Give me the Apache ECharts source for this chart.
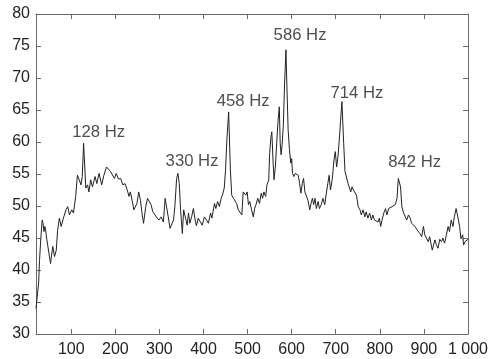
<!DOCTYPE html>
<html><head><meta charset="utf-8">
<script src="https://cdn.jsdelivr.net/npm/echarts@6/dist/echarts.min.js"></script>
<style>html,body{margin:0;padding:0;background:#fff}#c{width:491px;height:359px}</style>
</head><body><div id="c"></div>
<script>
// Spectrum samples (Hz) and levels
const freq = [
  20,22,24,26,28,31,34,36,38,40,42,44,47,
  53,58,62,66,69,73,77,83,88,92,96,101,105,110,114,118,122,125,128,
  133,137,140,144,148,154,158,163,169,174,180,184,
  189,193,198,202,207,212,217,222,227,231,234,238,242,246,249,253,257,260,264,
  269,273,277,281,285,289,293,296,299,304,309,313,316,320,324,328,332,335,
  339,342,345,348,352,355,359,363,366,369,373,377,381,384,388,393,397,402,
  407,411,416,419,425,428,432,436,440,443,447,450,453,457,459,461,
  464,468,472,475,479,483,487,490,493,496,499,502,505,509,513,516,519,523,527,531,534,537,
  541,544,548,550,553,555,558,560,563,566,569,572,574,576,578,581,584,587,589,592,595,598,600,
  602,605,608,611,615,618,621,624,627,630,634,637,641,644,647,650,653,656,660,663,667,671,675,678,682,
  685,688,692,696,699,702,705,708,711,714,718,721,725,728,731,734,737,740,743,747,
  751,755,758,762,766,769,773,777,781,784,788,792,796,799,802,805,809,813,816,820,824,828,831,835,839,
  842,845,847,850,854,858,861,865,869,872,876,880,884,887,891,895,899,902,906,
  910,913,919,925,928,932,936,940,943,947,951,955,958,962,966,969,973,977,981,984,988,990,993,996,1000
];
const level = [
  34.0,35.3,35.0,38.0,41.5,45.0,47.8,47.3,46.0,46.8,46.2,45.0,45.2,
  41.0,43.7,42.1,43.1,46.2,48.1,46.8,48.3,49.4,49.9,48.6,49.4,48.9,51.5,54.8,54.1,53.3,54.6,59.8,
  52.8,53.3,52.2,54.1,53.0,54.6,53.5,55.1,53.3,54.8,56.1,56.4,
  55.4,55.6,54.3,55.1,54.2,54.3,53.3,53.5,52.5,51.5,52.2,50.9,49.4,49.1,50.4,52.2,50.9,49.1,47.3,
  49.9,51.2,50.9,50.2,49.1,49.4,48.3,48.6,47.8,48.3,47.5,51.2,51.5,48.3,46.5,46.3,47.8,49.9,
  54.3,55.1,53.5,49.4,45.7,49.4,49.1,47.0,48.9,47.3,48.3,49.6,47.8,46.9,48.1,47.5,47.0,48.3,
  47.8,47.3,48.9,48.1,50.4,49.6,50.7,49.9,51.2,51.7,52.8,55.6,60.3,64.7,60.3,55.6,
  51.7,51.2,50.9,50.4,49.4,49.1,48.6,52.2,52.5,51.7,52.2,50.2,50.7,49.4,48.3,49.6,50.2,51.2,50.4,52.0,51.2,52.2,
  51.5,53.3,54.1,58.2,60.8,61.6,56.7,54.1,56.1,59.8,63.2,65.5,59.8,58.0,59.3,62.4,69.2,74.4,69.2,61.9,58.8,56.7,57.4,
  55.1,54.6,55.1,55.4,54.8,53.5,52.0,53.5,54.3,52.2,52.2,50.9,49.4,50.4,51.2,50.2,51.2,49.6,50.7,49.6,50.2,51.2,50.2,51.7,53.5,
  54.8,52.5,54.1,57.2,58.5,56.1,57.7,60.3,63.4,66.3,59.8,55.4,55.1,53.5,53.3,52.2,53.0,52.5,52.8,51.7,
  49.9,49.4,48.6,49.4,48.3,49.1,48.1,48.9,47.8,48.6,47.8,48.1,47.5,48.1,46.8,47.8,48.9,49.6,48.6,49.6,49.4,49.9,49.6,50.2,51.2,
  54.3,54.1,53.0,49.9,48.9,48.3,47.8,48.6,48.1,47.3,47.5,46.8,46.3,46.5,45.7,45.2,46.8,45.5,45.7,
  44.4,45.2,43.1,44.7,44.0,43.4,44.8,44.4,45.0,44.2,45.5,46.8,46.0,47.8,46.8,48.3,49.6,48.3,46.8,44.9,45.5,43.9,44.4,44.2,44.8
];
const xTicks = [100,200,300,400,500,600,700,800,900,1000];
const yTicks = [30,35,40,45,50,55,60,65,70,75,80];
// Peak annotations: text and label centre (data units)
const labelText = ['128 Hz','330 Hz','458 Hz','586 Hz','714 Hz','842 Hz'];
const labelFreq = [162,374,490,619,748,879];
const labelLevel = [61.5,56.9,66.4,76.6,67.6,56.8];

const FONT = 'Liberation Sans';
const axisColor = '#6a6a6a';
const textColor = '#222';
const chart = echarts.init(document.getElementById('c'), null, {renderer:'canvas'});
const tickStyle = {show:true, inside:true, length:5, lineStyle:{color:axisColor, width:1}};
chart.setOption({
  animation:false,
  backgroundColor:'#fff',
  grid:{left:36, right:18, top:14, bottom:25, containLabel:false},
  xAxis:[{
    type:'value', min:20, max:1000, position:'bottom',
    axisLine:{show:true, onZero:false, lineStyle:{color:axisColor, width:1}},
    axisTick:Object.assign({customValues:xTicks}, tickStyle),
    axisLabel:{customValues:xTicks, margin:8, color:textColor, fontFamily:FONT, fontSize:16,
      formatter:v => v >= 1000 ? '1 000' : String(v)},
    splitLine:{show:false}
  },{
    type:'value', min:20, max:1000, position:'top',
    axisLine:{show:true, onZero:false, lineStyle:{color:axisColor, width:1}},
    axisTick:Object.assign({customValues:xTicks}, tickStyle),
    axisLabel:{show:false, customValues:xTicks},
    splitLine:{show:false}
  }],
  yAxis:[{
    type:'value', min:30, max:80, interval:5, position:'left',
    axisLine:{show:true, onZero:false, lineStyle:{color:axisColor, width:1}},
    axisTick:tickStyle,
    axisLabel:{margin:6, color:textColor, fontFamily:FONT, fontSize:16},
    splitLine:{show:false}
  },{
    type:'value', min:30, max:80, interval:5, position:'right',
    axisLine:{show:true, onZero:false, lineStyle:{color:axisColor, width:1}},
    axisTick:tickStyle,
    axisLabel:{show:false},
    splitLine:{show:false}
  }],
  series:[{
    type:'line', xAxisIndex:0, yAxisIndex:0,
    data:freq.map((f,i)=>[f, level[i]]),
    showSymbol:false, symbol:'none',
    lineStyle:{color:'#222', width:1},
    z:3
  },{
    type:'scatter', xAxisIndex:0, yAxisIndex:0,
    data:labelFreq.map((f,i)=>({name:labelText[i], value:[f, labelLevel[i]]})),
    symbolSize:0,
    itemStyle:{color:'rgba(0,0,0,0)'},
    label:{show:true, position:'inside', formatter:'{b}', color:textColor, fontFamily:FONT, fontSize:16.7},
    silent:true, z:4
  }]
});
</script>
</body></html>
